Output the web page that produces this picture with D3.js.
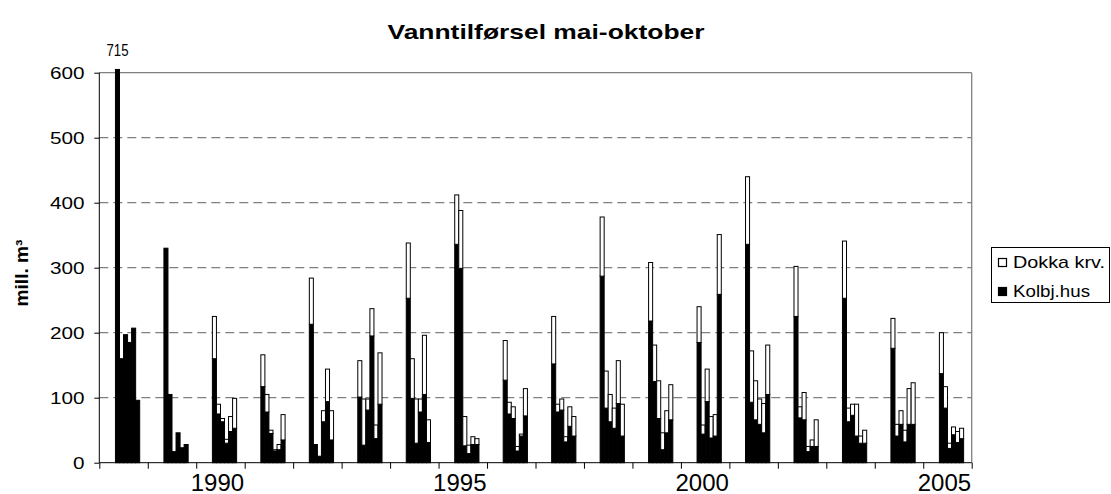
<!DOCTYPE html>
<html>
<head>
<meta charset="utf-8">
<script src="https://cdn.jsdelivr.net/npm/d3@7"></script>
<style>
body { margin: 0; background: #fff; }
text { font-family: "Liberation Sans", Arial, sans-serif; fill: #000; }
</style>
</head>
<body>
<script>
// years on the axis, one band per year, 12 months per band
var years = [1988, 1989, 1990, 1991, 1992, 1993, 1994, 1995, 1996, 1997,
             1998, 1999, 2000, 2001, 2002, 2003, 2004, 2005];
var months = [5, 6, 7, 8, 9, 10]; // mai - oktober
var yearLabels = [1990, 1995, 2000, 2005];
var yTicks = [0, 100, 200, 300, 400, 500, 600];

// Kolbj.hus (black), mai..oktober for each year
var kolbj = [
    [715, 160, 197, 185, 207, 96],
    [330, 105, 17, 46, 23, 28],
    [160, 75, 63, 30, 48, 53],
    [117, 78, 45, 18, 20, 35],
    [213, 28, 10, 63, 94, 35],
    [101, 27, 81, 195, 37, 90],
    [253, 99, 30, 78, 105, 31],
    [336, 299, 26, 14, 28, 28],
    [127, 75, 68, 18, 41, 72],
    [152, 78, 81, 32, 56, 41],
    [287, 84, 63, 53, 91, 41],
    [218, 125, 68, 20, 46, 66],
    [185, 44, 94, 38, 41, 259],
    [336, 93, 66, 59, 46, 105],
    [225, 69, 66, 17, 25, 25],
    [253, 63, 73, 41, 30, 30],
    [176, 41, 59, 32, 59, 59],
    [137, 84, 22, 43, 31, 37]
];
// Dokka krv. (white, stacked on top)
var dokka = [
    [0, 0, 0, 0, 0, 0],
    [0, 0, 0, 0, 0, 0],
    [65, 15, 5, 6, 23, 46],
    [49, 27, 5, 2, 8, 39],
    [71, 0, 0, 17, 50, 45],
    [56, 71, 17, 42, 21, 79],
    [85, 61, 68, 20, 91, 35],
    [76, 89, 45, 13, 12, 9],
    [61, 18, 18, 7, 3, 42],
    [73, 12, 17, 8, 30, 30],
    [91, 57, 42, 31, 66, 49],
    [90, 56, 58, 26, 34, 54],
    [55, 14, 50, 33, 33, 92],
    [104, 79, 60, 39, 45, 76],
    [77, 17, 42, 8, 10, 41],
    [88, 21, 17, 49, 11, 20],
    [46, 18, 21, 18, 55, 64],
    [63, 33, 8, 12, 17, 16]
];

var W = 1111, H = 494;
var plotL = 99.3, plotR = 971.7, plotT = 72.7, plotB = 462.7;

var svg = d3.select("body").append("svg")
    .attr("width", W)
    .attr("height", H);

var xScale = d3.scaleLinear()
    .domain([0, years.length * 12])
    .range([plotL, plotR]);

var yScale = d3.scaleLinear()
    .domain([0, 600])
    .range([plotB, plotT]);

// gridlines
svg.append("g").selectAll("line")
    .data(yTicks.filter(function(d) { return d > 0; }))
    .enter().append("line")
    .attr("x1", plotL).attr("x2", plotR)
    .attr("y1", function(d) { return yScale(d); })
    .attr("y2", function(d) { return yScale(d); })
    .attr("stroke", "#808080")
    .attr("stroke-width", 1.3)
    .attr("stroke-dasharray", function(d) { return d == 600 ? null : "9,5"; });

// right border
svg.append("line")
    .attr("x1", plotR).attr("x2", plotR)
    .attr("y1", plotT).attr("y2", plotB)
    .attr("stroke", "#808080").attr("stroke-width", 1.3);

// build the bars
var bars = [];
years.forEach(function(yr, i) {
    months.forEach(function(m, j) {
        var k = kolbj[i][j], d = dokka[i][j];
        var idx = i * 12 + (m - 1);
        bars.push({idx: idx, y0: 0, y1: k, fill: "#000"});
        if (d > 0) bars.push({idx: idx, y0: k, y1: k + d, fill: "#fff"});
    });
});

svg.append("g").selectAll("rect")
    .data(bars)
    .enter().append("rect")
    .attr("x", function(d) { return xScale(d.idx); })
    .attr("width", function(d) { return xScale(d.idx + 1) - xScale(d.idx); })
    .attr("y", function(d) { return yScale(Math.min(d.y1, 605)); })
    .attr("height", function(d) { return yScale(d.y0) - yScale(Math.min(d.y1, 605)); })
    .attr("fill", function(d) { return d.fill; })
    .attr("stroke", "#000")
    .attr("stroke-width", 1);

// label for the clipped bar
svg.append("text")
    .attr("x", xScale(4.5))
    .attr("y", 56)
    .attr("text-anchor", "middle")
    .attr("font-size", 16)
    .attr("textLength", 22)
    .attr("lengthAdjust", "spacingAndGlyphs")
    .text(kolbj[0][0]);

// y axis
var yAxis = d3.axisLeft(yScale).tickValues(yTicks).tickSize(5).tickPadding(10);
var gy = svg.append("g")
    .attr("transform", "translate(" + plotL + ",0)")
    .call(yAxis);
gy.select(".domain").attr("stroke", "#000").attr("d", "M0," + plotT + "V" + plotB);
gy.selectAll(".tick line").attr("stroke", "#000");
gy.selectAll(".tick text")
    .attr("font-size", 17)
    .attr("font-family", "Liberation Sans, Arial, sans-serif")
    .attr("dy", "0.36em")
    .attr("transform", "translate(-16,0) scale(1.22,1) translate(16,0)");

// x axis: ticks every year, labels every 5 years
var xAxis = d3.axisBottom(xScale)
    .tickValues(d3.range(0, years.length + 1).map(function(i) { return i * 12; }))
    .tickSize(6)
    .tickFormat("");
var gx = svg.append("g")
    .attr("transform", "translate(0," + plotB + ")")
    .call(xAxis);
gx.select(".domain").attr("stroke", "#000").attr("d", "M" + plotL + ",0H" + plotR);
gx.selectAll(".tick line").attr("stroke", "#000");

svg.append("g").selectAll("text")
    .data(yearLabels)
    .enter().append("text")
    .attr("x", function(d) { var i = years.indexOf(d); return xScale(i * 12 + 6) - 3; })
    .attr("y", 490.5)
    .attr("text-anchor", "middle")
    .attr("font-size", 24)
    .text(function(d) { return d; });

// title
svg.append("text")
    .attr("x", 546)
    .attr("y", 39)
    .attr("text-anchor", "middle")
    .attr("font-size", 21)
    .attr("font-weight", "bold")
    .attr("textLength", 317)
    .attr("lengthAdjust", "spacingAndGlyphs")
    .text("Vanntilførsel mai-oktober");

// y axis title
svg.append("text")
    .attr("transform", "translate(28,273) rotate(-90)")
    .attr("text-anchor", "middle")
    .attr("font-size", 18)
    .attr("font-weight", "bold")
    .attr("textLength", 67)
    .attr("lengthAdjust", "spacingAndGlyphs")
    .text("mill. m³");

// legend
var legend = svg.append("g");
legend.append("rect")
    .attr("x", 991.5).attr("y", 247.5)
    .attr("width", 118).attr("height", 55)
    .attr("fill", "#fff").attr("stroke", "#000");

var items = [
    {name: "Dokka krv.", fill: "#fff", y: 268, w: 92},
    {name: "Kolbj.hus", fill: "#000", y: 297, w: 77}
];
items.forEach(function(it) {
    legend.append("rect")
        .attr("x", 998.5).attr("y", it.y - 9.5)
        .attr("width", 8).attr("height", 8)
        .attr("fill", it.fill).attr("stroke", "#000").attr("stroke-width", 1.2);
    legend.append("text")
        .attr("x", 1013).attr("y", it.y)
        .attr("font-size", 17)
        .attr("textLength", it.w)
        .attr("lengthAdjust", "spacingAndGlyphs")
        .text(it.name);
});
</script>
</body>
</html>
